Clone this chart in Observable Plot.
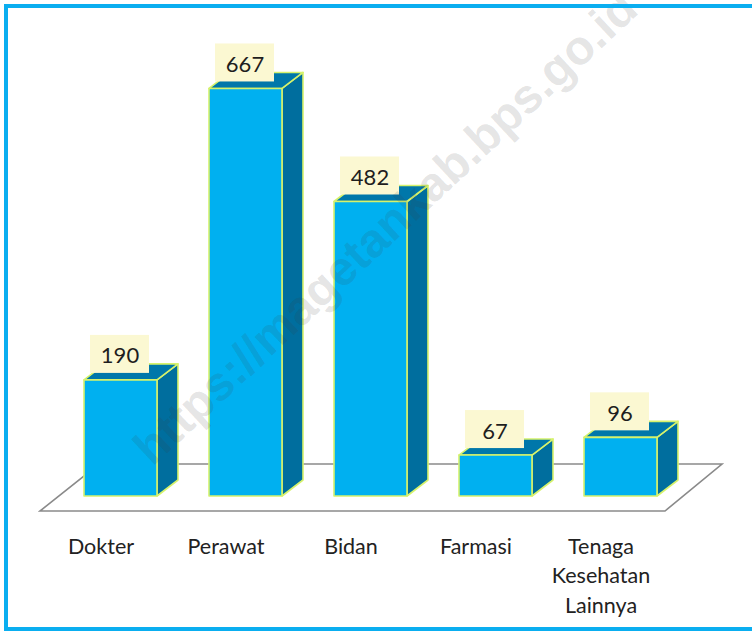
<!DOCTYPE html>
<html>
<head>
<meta charset="utf-8">
<script src="https://cdn.jsdelivr.net/npm/d3@7"></script>
<script src="https://cdn.jsdelivr.net/npm/@observablehq/plot@0.6"></script>
<style>
  html, body { margin: 0; padding: 0; background: #ffffff; }
  #wrap { position: relative; width: 752px; height: 631px; overflow: hidden; background: #fff; }
  #chart { position: absolute; left: 0; top: 0; }
  #border { position: absolute; left: 4px; top: 4px; width: 760px; height: 627px;
            box-sizing: border-box; border: 4px solid #0aaef0; pointer-events: none; }
  #wm { position: absolute; left: 160px; top: 420px; transform-origin: 0 100%;
        transform: rotate(-43deg); font: bold 48px "Liberation Sans", Arial, sans-serif;
        color: rgba(60,60,60,0.14); white-space: nowrap; pointer-events: none; }
</style>
</head>
<body>
<div id="wrap">
  <div id="chart"></div>
  <div id="wm">https://magetankab.bps.go.id</div>
  <div id="border"></div>
</div>
<script>
const categories = ["Dokter", "Perawat", "Bidan", "Farmasi", "Tenaga Kesehatan Lainnya"];
const categoryLabels = ["Dokter", "Perawat", "Bidan", "Farmasi", "Tenaga\nKesehatan\nLainnya"];
const values = [190, 667, 482, 67, 96];

const data = categories.map((c, i) => ({cat: c, label: categoryLabels[i], value: values[i]}));

const FRONT = "#00b0f0";
const SIDE = "#006e9e";
const TOP = "#0077aa";
const EDGE = "#d6f26c";
const DX = 21, DY = -16;

const floorMark = Plot.ruleY([0], {
  render(index, scales, vals, dims) {
    const [r0, r1] = scales.x.range();
    const y0 = scales.y(0);
    const fl = r0 + 8, fr = r1 - 44;
    const yf = y0 + 15, yb = y0 - 32;
    const pts = [[fl, yf], [fr, yf], [fr + 57, yb], [fl + 59, yb]];
    const g = d3.create("svg:g");
    g.append("polygon")
      .attr("points", pts.map(p => p.join(",")).join(" "))
      .attr("fill", "#ffffff")
      .attr("stroke", "#8a8a8a")
      .attr("stroke-width", 1.6);
    return g.node();
  }
});

const bars3d = Plot.barY(data, {
  x: "cat",
  y: "value",
  render(index, scales, vals) {
    const bw = scales.x.bandwidth();
    const g = d3.create("svg:g").attr("stroke", EDGE).attr("stroke-width", 1.6).attr("stroke-linejoin", "round");
    for (const i of index) {
      const x0 = vals.x[i];
      const x1 = x0 + bw;
      const top = Math.min(vals.y1[i], vals.y2[i]);
      const bot = Math.max(vals.y1[i], vals.y2[i]);
      const poly = (pts, fill) => g.append("polygon").attr("points", pts.map(p => p.join(",")).join(" ")).attr("fill", fill);
      poly([[x1, bot], [x1, top], [x1 + DX, top + DY], [x1 + DX, bot + DY]], SIDE);
      poly([[x0, top], [x1, top], [x1 + DX, top + DY], [x0 + DX, top + DY]], TOP);
      poly([[x0, top], [x1, top], [x1, bot], [x0, bot]], FRONT);
    }
    return g.node();
  }
});

const chart = Plot.plot({
  width: 752,
  height: 631,
  margin: 0,
  style: {fontFamily: "Lato, 'Open Sans', sans-serif", background: "transparent", overflow: "visible"},
  x: {type: "band", domain: categories, range: [32, 709], padding: 0.416, axis: null},
  y: {domain: [0, 700], range: [496, 68.3], axis: null},
  marks: [
    floorMark,
    bars3d,
    Plot.barY(data, {x: "cat", y1: "value", y2: "value", insetTop: -45, insetBottom: 7, insetLeft: 6, insetRight: 8, fill: "#fbf8d2"}),
    Plot.text(data, {x: "cat", y: "value", text: d => String(d.value), dx: -1, dy: -24, fontSize: 22, fill: "#1e1e1e", lineAnchor: "middle"}),
    Plot.text(data, {x: "cat", y: () => 0, text: "label", dx: -20, dy: 36.5, fontSize: 21.5, fill: "#222", lineAnchor: "top", lineHeight: 1.37})
  ]
});
document.getElementById("chart").appendChild(chart);
</script>
</body>
</html>
